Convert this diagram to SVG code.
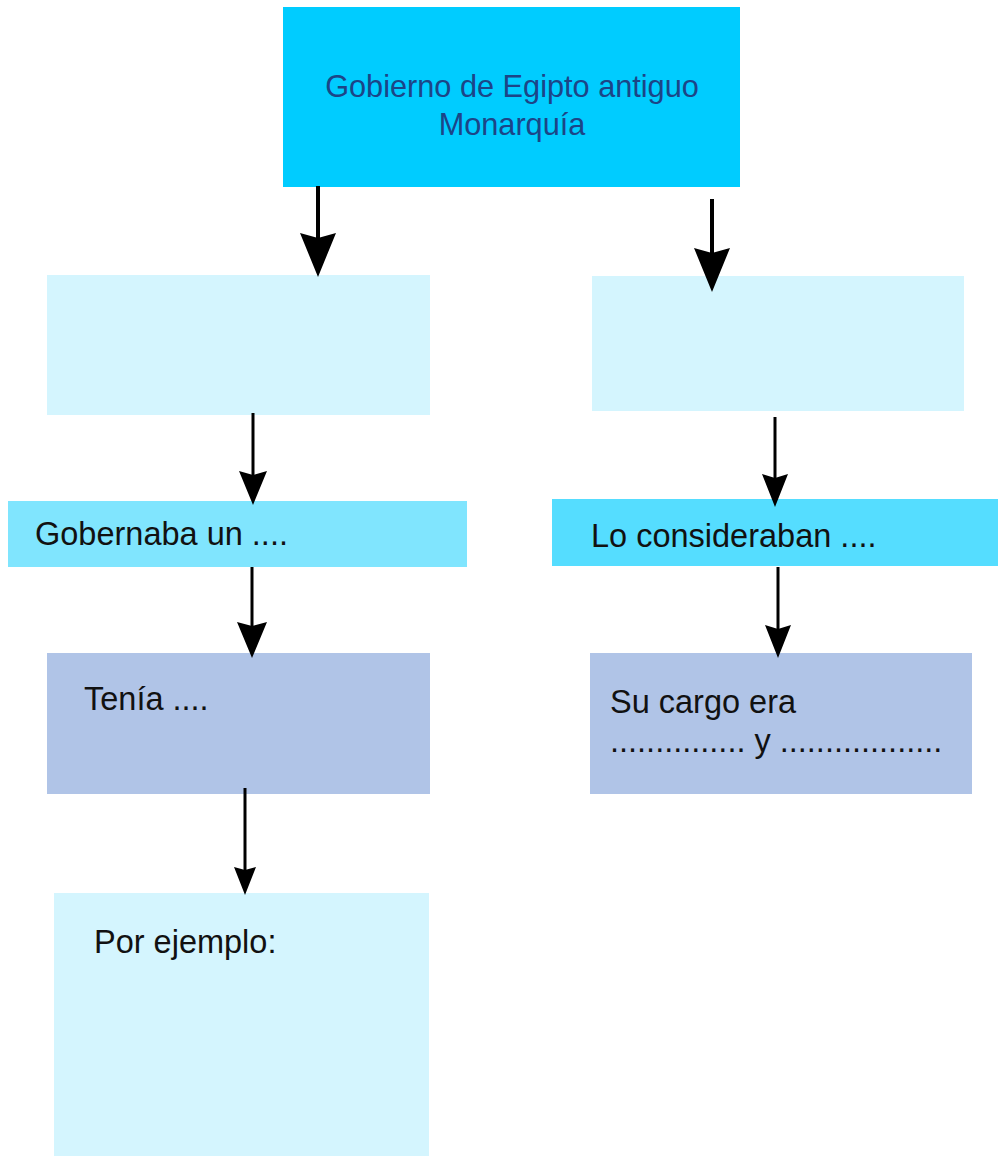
<svg xmlns="http://www.w3.org/2000/svg" width="998" height="1156" viewBox="0 0 998 1156">
<style>
.t{font-family:"Liberation Sans",Arial,sans-serif;font-size:32.5px;fill:#111111}
.tb{font-family:"Liberation Sans",Arial,sans-serif;font-size:30.7px;fill:#1c4587}
.ln{stroke:#000000;fill:none}
.hd{fill:#000000;stroke:none}
</style>
<rect width="998" height="1156" fill="#ffffff"/>
<g id="top">
<rect x="283" y="7" width="457" height="180" fill="#00ccff"/>
<text class="tb" x="512" y="97" text-anchor="middle">Gobierno de Egipto antiguo</text>
<text class="tb" x="512" y="135" text-anchor="middle">Monarquía</text>
</g>
<g id="left1">
<rect x="47" y="275" width="383" height="140" fill="#d4f5fe"/>
</g>
<g id="right1">
<rect x="592" y="276" width="372" height="135" fill="#d4f5fe"/>
</g>
<g id="gobernaba">
<rect x="8" y="501" width="459" height="66" fill="#80e5fe"/>
<text class="t" x="35" y="545">Gobernaba un ....</text>
</g>
<g id="consideraban">
<rect x="552" y="499" width="446" height="67" fill="#55ddff"/>
<text class="t" x="591" y="547">Lo consideraban ....</text>
</g>
<g id="tenia">
<rect x="47" y="653" width="383" height="141" fill="#b0c4e7"/>
<text class="t" x="84" y="710">Tenía ....</text>
</g>
<g id="cargo">
<rect x="590" y="653" width="382" height="141" fill="#b0c4e7"/>
<text class="t" x="610" y="713">Su cargo era</text>
<text class="t" x="610" y="752">............... y ..................</text>
</g>
<g id="ejemplo">
<rect x="54" y="893" width="375" height="263" fill="#d4f5fe"/>
<text class="t" x="94" y="953">Por ejemplo:</text>
</g>
<g id="connectors">
<line class="ln" x1="318" y1="186" x2="318" y2="245" stroke-width="4"/>
<polygon class="hd" points="318,277 300,233 318,238 336,233"/>
<line class="ln" x1="712" y1="199" x2="712" y2="260" stroke-width="4"/>
<polygon class="hd" points="712,292 694,248 712,253 730,248"/>
<line class="ln" x1="253" y1="413" x2="253" y2="480" stroke-width="3"/>
<polygon class="hd" points="253,505 239,471 253,475 267,471"/>
<line class="ln" x1="252" y1="567" x2="252" y2="630" stroke-width="3"/>
<polygon class="hd" points="252,658 237,622 252,626 267,622"/>
<line class="ln" x1="245" y1="788" x2="245" y2="872" stroke-width="3"/>
<polygon class="hd" points="245,895 234,867 245,870 256,867"/>
<line class="ln" x1="775" y1="417" x2="775" y2="480" stroke-width="3"/>
<polygon class="hd" points="775,507 762,474 775,478 788,474"/>
<line class="ln" x1="778" y1="567" x2="778" y2="630" stroke-width="3"/>
<polygon class="hd" points="778,658 765,625 778,629 791,625"/>
</g>
</svg>
